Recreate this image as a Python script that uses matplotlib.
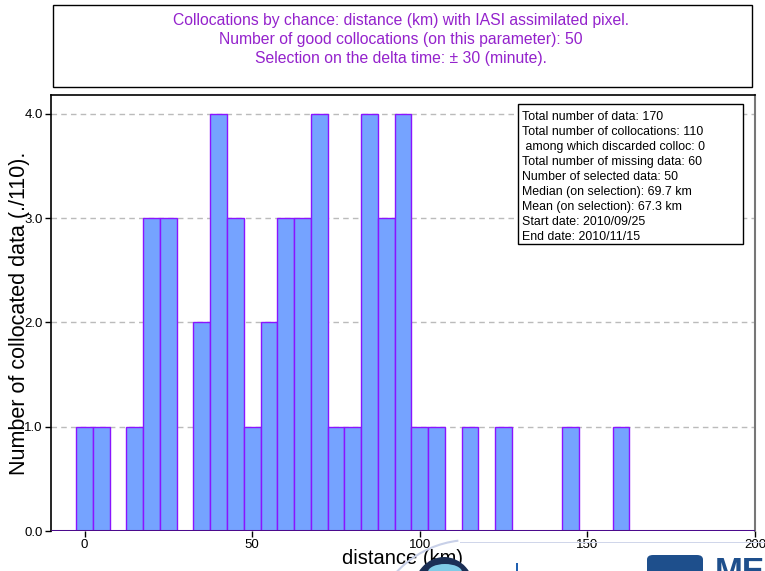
import matplotlib
matplotlib.use("Agg")
import matplotlib.pyplot as plt
from matplotlib.patches import Rectangle, Ellipse, Arc, FancyBboxPatch

plt.rcParams['font.family'] = ['Liberation Sans', 'DejaVu Sans']

# Histogram of collocation distances (5 km bins centred on multiples of 5)
bin_centers = [0, 5, 10, 15, 20, 25, 30, 35, 40, 45, 50, 55, 60, 65, 70, 75, 80,
               85, 90, 95, 100, 105, 110, 115, 120, 125, 130, 135, 140, 145,
               150, 155, 160]
counts = [1, 1, 0, 1, 3, 3, 0, 2, 4, 3, 1, 2, 3, 3, 4, 1, 1,
          4, 3, 4, 1, 1, 0, 1, 0, 1, 0, 0, 0, 1,
          0, 0, 1]
bin_width = 5

title_lines = [
    "Collocations by chance: distance (km) with IASI assimilated pixel.",
    "Number of good collocations (on this parameter): 50",
    "Selection on the delta time: \u00b1 30 (minute).",
]
stats_lines = [
    "Total number of data: 170",
    "Total number of collocations: 110",
    " among which discarded colloc: 0",
    "Total number of missing data: 60",
    "Number of selected data: 50",
    "Median (on selection): 69.7 km",
    "Mean (on selection): 67.3 km",
    "Start date: 2010/09/25",
    "End date: 2010/11/15",
]
y_ticks = [0.0, 1.0, 2.0, 3.0, 4.0]
x_ticks = [0, 50, 100, 150, 200]

W, H = 765, 571
fig = plt.figure(figsize=(W / 100, H / 100), dpi=100)

def fx(px):
    return px / W

def fy(py):
    return 1 - py / H

# Title box
fig.patches.append(Rectangle((fx(53), fy(87)), fx(752) - fx(53), fy(5) - fy(87),
                             transform=fig.transFigure, fill=False,
                             edgecolor='black', linewidth=1.0))
fig.text(fx(401), fy(39.5), "\n".join(title_lines), ha='center', va='center',
         color='#9422CC', fontsize=11.3, linespacing=1.36)

# Main axes
ax_l, ax_r, ax_t, ax_b = 51, 755, 95, 531
ax = fig.add_axes([fx(ax_l), fy(ax_b), fx(ax_r) - fx(ax_l), fy(ax_t) - fy(ax_b)])
ax.bar([c for c, n in zip(bin_centers, counts) if n > 0],
       [n for n in counts if n > 0], width=bin_width,
       facecolor='#75A3FF', edgecolor='#8A14FF', linewidth=1.0, zorder=2)
ax.plot([-10, 200], [0, 0], color='#4B0A8C', linewidth=2.2, zorder=3,
        solid_capstyle='butt')

ax.set_xlim(-10, 200)
ax.set_ylim(0, 4.18)
ax.set_yticks(y_ticks)
ax.set_yticklabels([f"{v:.1f}" for v in y_ticks])
ax.set_xticks(x_ticks)
ax.tick_params(axis='both', labelsize=9.5, length=4, width=1, direction='out',
               colors='black', pad=2)
ax.yaxis.grid(True, linestyle=(0, (4, 3)), color='#BBBBBB', linewidth=1, zorder=0)
ax.set_axisbelow(True)
for side in ('left', 'top'):
    ax.spines[side].set_color('black')
    ax.spines[side].set_linewidth(1.2)
ax.spines['right'].set_color('#777777')
ax.spines['right'].set_linewidth(1.5)
ax.spines['bottom'].set_visible(False)

ax.set_ylabel("Number of collocated data (./110).", fontsize=15.5)
ax.yaxis.set_label_coords(-0.030, 0.5)
ax.set_xlabel("distance (km)", fontsize=14.5)
ax.xaxis.set_label_coords(0.5, -0.042)
ax.xaxis.label.set_verticalalignment('top')

# Summary statistics box
def ax_x(px):
    return (px - ax_l) / (ax_r - ax_l)

def ax_y(py):
    return (ax_b - py) / (ax_b - ax_t)

ax.add_patch(Rectangle((ax_x(518), ax_y(244)), ax_x(743) - ax_x(518),
                       ax_y(104) - ax_y(244), transform=ax.transAxes,
                       facecolor='white', edgecolor='black', linewidth=1.0,
                       zorder=5))
ax.text(ax_x(522), ax_y(111.5), "\n".join(stats_lines), transform=ax.transAxes,
        ha='left', va='top', fontsize=8.9, linespacing=1.33, zorder=6)

# Partial logos along the bottom edge
fig.patches.append(Arc((fx(470), fy(640)), fx(200), fy(540) - fy(740),
                       theta1=95, theta2=160, transform=fig.transFigure,
                       color='#C8D0E8', linewidth=1.5))
fig.patches.append(Rectangle((fx(460), fy(543)), fx(765) - fx(460), 0.002,
                             transform=fig.transFigure, facecolor='#D0D6EA',
                             edgecolor='none'))
fig.patches.append(Ellipse((fx(444), fy(592)), fx(62), fy(557) - fy(627),
                           transform=fig.transFigure,
                           facecolor='#1B2F55', edgecolor='none'))
fig.patches.append(Ellipse((fx(445), fy(572)), fx(34), fy(564) - fy(580),
                           transform=fig.transFigure,
                           facecolor='#7FCBE6', edgecolor='none'))
fig.patches.append(Rectangle((fx(516), fy(571)), fx(2), fy(563) - fy(571),
                             transform=fig.transFigure, facecolor='#2060B0',
                             edgecolor='none'))
fig.patches.append(FancyBboxPatch((fx(647), fy(580)), fx(56), fy(555) - fy(580),
                                  boxstyle='round,pad=0,rounding_size=0.008',
                                  transform=fig.transFigure,
                                  facecolor='#1E4F8C', edgecolor='none'))
fig.text(fx(715), fy(581), "ME", ha='left', va='baseline', color='#1E4F8C',
         fontsize=24, fontweight='bold')

fig.savefig("out.png", dpi=100)
